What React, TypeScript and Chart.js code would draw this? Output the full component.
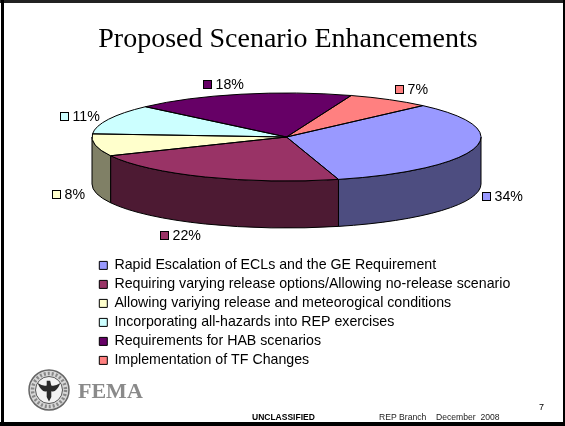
import React, { useEffect, useRef } from "react";
import { Chart, registerables } from "chart.js";

Chart.register(...registerables);

const TITLE = "Proposed Scenario Enhancements";
const CATEGORIES = [
  "Rapid Escalation of ECLs and the GE Requirement",
  "Requiring varying release options/Allowing no-release scenario",
  "Allowing variying release and meteorogical conditions",
  "Incorporating all-hazards into REP exercises",
  "Requirements for HAB scenarios",
  "Implementation of TF Changes",
];
const SHARES = [33.5, 22.4, 8.2, 11, 18.4, 7];
const TOP_COLORS = ["#9999FF", "#993366", "#FFFFCC", "#CCFFFF", "#660066", "#FF8080"];
const WALL_COLORS = ["#4D4D80", "#4D1A33", "#808066", "#668080", "#330033", "#804040"];
const FOOTER_CENTER = "UNCLASSIFIED";
const FOOTER_BRANCH = "REP Branch";
const FOOTER_DATE = "December  2008";
const PAGE_NUMBER = "7";
const LOGO_TEXT = "FEMA";

// Layout of the tilted pie
const CX = 286.5;
const CY = 137;
const RY = 44;
const DEPTH = 47;
const RADIUS = 194.5;
const LABEL_OFFSETS = [
  [7.2, 48.2],
  [-45.2, 58.3],
  [-42.9, 49.1],
  [-49, -3.3],
  [-37.5, -10],
  [5.8, -11],
];
const SANS = '"Liberation Sans", Arial, sans-serif';
const SERIF = '"Liberation Serif", "Times New Roman", serif';

const slidePlugin = {
  id: "slide",
  afterLayout(chart: any) {
    const legend = chart.legend;
    legend.left = 94.5;
    legend.right = 540;
    legend.top = 253.5;
    legend.bottom = 400;
    legend.width = 445.5;
    legend.height = 146.5;
    const t = chart.titleBlock;
    t.left += 5.5;
    t.right += 5.5;
  },
  beforeDatasetsDraw(chart: any) {
    const { ctx } = chart;
    const arcs = chart.getDatasetMeta(0).data;
    ctx.save();
    ctx.lineWidth = 1;
    ctx.strokeStyle = "#000";
    arcs.forEach((el: any, i: number) => {
      const lo = Math.max(el.startAngle, 0);
      const hi = Math.min(el.endAngle, Math.PI);
      if (hi <= lo) return;
      const a = el.outerRadius;
      ctx.beginPath();
      ctx.ellipse(CX, CY, a, RY, 0, lo, hi);
      ctx.ellipse(CX, CY + DEPTH, a, RY, 0, hi, lo, true);
      ctx.closePath();
      ctx.fillStyle = WALL_COLORS[i];
      ctx.fill();
      ctx.stroke();
    });
    ctx.restore();
    const a = arcs[0].outerRadius;
    ctx.save();
    ctx.translate(CX, CY);
    ctx.scale(1, RY / a);
    ctx.translate(-arcs[0].x, -arcs[0].y);
  },
  afterDatasetsDraw(chart: any) {
    const { ctx } = chart;
    ctx.restore();
    const arcs = chart.getDatasetMeta(0).data;
    arcs.forEach((el: any, i: number) => {
      const a = el.outerRadius;
      ctx.save();
      ctx.translate(CX, CY);
      ctx.scale(1, RY / a);
      ctx.beginPath();
      ctx.moveTo(0, 0);
      ctx.arc(0, 0, a, el.startAngle, el.endAngle);
      ctx.closePath();
      ctx.restore();
      ctx.lineWidth = 1;
      ctx.strokeStyle = "#000";
      ctx.stroke();

      // data label with its colour key
      const mid = (el.startAngle + el.endAngle) / 2;
      const bx = Math.round(CX + a * Math.cos(mid) + LABEL_OFFSETS[i][0]);
      const by = Math.round(CY + RY * Math.sin(mid) + LABEL_OFFSETS[i][1]);
      ctx.fillStyle = TOP_COLORS[i];
      ctx.fillRect(bx, by - 4, 8, 8);
      ctx.strokeRect(bx + 0.5, by - 3.5, 8, 8);
      ctx.fillStyle = "#000";
      ctx.font = `14.2px ${SANS}`;
      ctx.textAlign = "left";
      ctx.textBaseline = "middle";
      ctx.fillText(`${Math.round(SHARES[i])}%`, bx + 12.5, by + 1);
    });
  },
  afterDraw(chart: any) {
    const { ctx } = chart;
    ctx.save();
    // slide frame
    ctx.fillStyle = "#222";
    ctx.fillRect(0, 0, 565, 3);
    ctx.fillStyle = "#000";
    ctx.fillRect(1, 0, 3, 426);
    ctx.fillRect(563, 0, 2, 426);
    ctx.fillRect(0, 422, 565, 4);

    // seal
    const sx = 49;
    const sy = 390;
    ctx.fillStyle = "#d8d8d8";
    ctx.beginPath();
    ctx.arc(sx, sy, 20, 0, Math.PI * 2);
    ctx.fill();
    ctx.strokeStyle = "#666";
    ctx.lineWidth = 1.5;
    ctx.stroke();
    ctx.strokeStyle = "#888";
    ctx.lineWidth = 3.5;
    ctx.setLineDash([2, 2]);
    ctx.beginPath();
    ctx.arc(sx, sy, 16.5, 0, Math.PI * 2);
    ctx.stroke();
    ctx.setLineDash([]);
    ctx.fillStyle = "#f2f2f2";
    ctx.beginPath();
    ctx.arc(sx, sy, 13.5, 0, Math.PI * 2);
    ctx.fill();
    ctx.strokeStyle = "#555";
    ctx.lineWidth = 1;
    ctx.stroke();
    ctx.save();
    ctx.translate(sx, sy);
    ctx.scale(1.15, 1.15);
    ctx.fillStyle = "#2a2a2a";
    ctx.beginPath();
    ctx.moveTo(-10, -6);
    ctx.quadraticCurveTo(-6, 3, -2, 1);
    ctx.lineTo(-2, 6);
    ctx.lineTo(0, 10);
    ctx.lineTo(2, 6);
    ctx.lineTo(2, 1);
    ctx.quadraticCurveTo(6, 3, 10, -6);
    ctx.quadraticCurveTo(5, -3, 2, -4);
    ctx.lineTo(1, -8);
    ctx.lineTo(-2, -8);
    ctx.lineTo(-2, -4);
    ctx.quadraticCurveTo(-5, -3, -10, -6);
    ctx.fill();
    ctx.restore();

    ctx.textBaseline = "alphabetic";
    ctx.textAlign = "left";
    ctx.fillStyle = "#8a8a8a";
    ctx.font = `bold 22px ${SERIF}`;
    ctx.fillText(LOGO_TEXT, 78, 398);

    ctx.fillStyle = "#000";
    ctx.font = `bold 8.5px ${SANS}`;
    ctx.fillText(FOOTER_CENTER, 252, 420);
    ctx.font = `8.6px ${SANS}`;
    ctx.fillStyle = "#222";
    ctx.fillText(FOOTER_BRANCH, 379, 420);
    ctx.fillText(FOOTER_DATE, 436, 420);
    ctx.fillStyle = "#000";
    ctx.font = `9px ${SANS}`;
    ctx.fillText(PAGE_NUMBER, 539, 410);
    ctx.restore();
  },
};

export default function App() {
  const ref = useRef<HTMLCanvasElement>(null);
  useEffect(() => {
    document.body.style.margin = "0";
    document.body.style.background = "#fff";
    const defaultLabels = (Chart as any).overrides.pie.plugins.legend.labels.generateLabels;
    const chart = new Chart(ref.current as HTMLCanvasElement, {
      type: "pie",
      data: {
        labels: CATEGORIES,
        datasets: [
          {
            data: SHARES,
            backgroundColor: TOP_COLORS,
            borderWidth: 0,
            radius: RADIUS,
            clip: false,
          } as any,
        ],
      },
      options: {
        animation: false,
        responsive: false,
        rotation: 44.5,
        layout: { padding: 0 },
        plugins: {
          tooltip: { enabled: false },
          title: {
            display: true,
            text: TITLE,
            color: "#000",
            font: { family: SERIF, size: 28, weight: "normal", lineHeight: 1.2 },
            padding: { top: 23, bottom: 10 },
          },
          legend: {
            display: true,
            position: "chartArea",
            align: "start",
            labels: {
              boxWidth: 8,
              boxHeight: 8,
              padding: 4.8,
              color: "#000",
              font: { family: SANS, size: 14.2, lineHeight: 1.2 },
              generateLabels: (c: any) =>
                defaultLabels(c).map((l: any) => ({ ...l, strokeStyle: "#000", lineWidth: 1 })),
            },
          },
        },
      } as any,
      plugins: [slidePlugin],
    });
    return () => chart.destroy();
  }, []);
  return (
    <canvas
      ref={ref}
      width={565}
      height={426}
      style={{ position: "absolute", left: 0, top: 0, width: 565, height: 426, display: "block" }}
    />
  );
}
